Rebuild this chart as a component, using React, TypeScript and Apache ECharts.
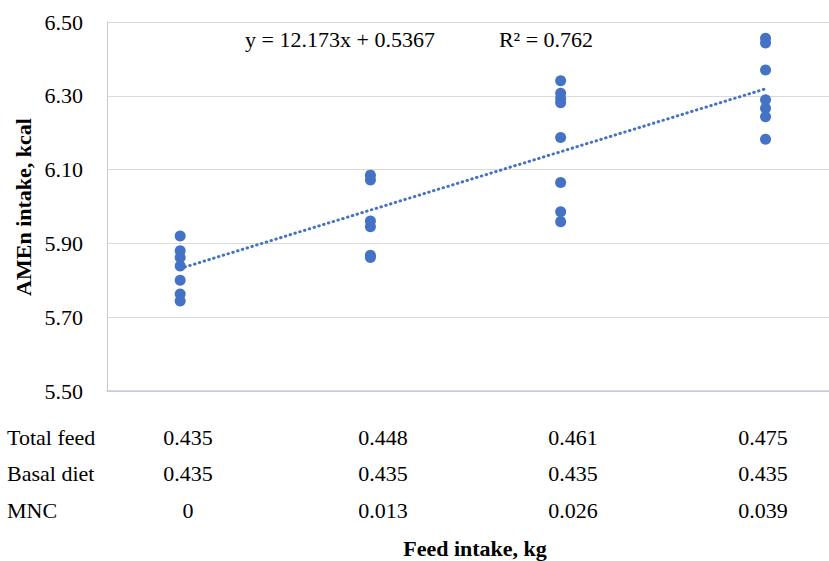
import React, { useEffect, useRef } from "react";
import * as echarts from "echarts";

// Feed intake (kg) of each group – x positions of the points
const feedIntake = [0.435, 0.448, 0.461, 0.475];

// AMEn intake (kcal) readings of each group
const group1 = [5.92, 5.88, 5.862, 5.839, 5.8, 5.763, 5.744];
const group2 = [6.085, 6.072, 5.961, 5.945, 5.868, 5.862];
const group3 = [6.341, 6.307, 6.293, 6.281, 6.187, 6.065, 5.986, 5.959];
const group4 = [6.456, 6.443, 6.37, 6.289, 6.266, 6.243, 6.182];

// Linear trend line constants
const slope = 12.173;
const intercept = 0.5367;
const equationText = "y = 12.173x + 0.5367";
const r2Text = "R² = 0.762";

// Table below the chart
const rowLabels = ["Total feed", "Basal diet", "MNC"];
const totalFeed = ["0.435", "0.448", "0.461", "0.475"];
const basalDiet = ["0.435", "0.435", "0.435", "0.435"];
const mnc = ["0", "0.013", "0.026", "0.039"];

const yTicks = { min: 5.5, max: 6.5, interval: 0.2 };
const xRange = { min: 0.43, max: 0.48 };

const FONT = "'Liberation Serif', 'Times New Roman', serif";
const BLUE = "#4472C4";

export default function App() {
  const ref = useRef<HTMLDivElement>(null);

  useEffect(() => {
    if (!ref.current) return;
    const chart = echarts.init(ref.current, undefined, { renderer: "svg" });

    const groups = [group1, group2, group3, group4];
    const points: number[][] = [];
    groups.forEach((g, i) => g.forEach((v) => points.push([feedIntake[i], v])));

    const xMin = Math.min(...feedIntake);
    const xMax = Math.max(...feedIntake);
    const trend = [
      [xMin, slope * xMin + intercept],
      [xMax, slope * xMax + intercept],
    ];

    const colX = [188, 383, 573, 763];
    const rowY = [437, 473, 510];
    const rows = [totalFeed, basalDiet, mnc];
    const tableTexts: any[] = [];
    rowLabels.forEach((lab, r) => {
      tableTexts.push({
        type: "text",
        x: 7,
        y: rowY[r],
        style: { text: lab, font: `22px ${FONT}`, fill: "#000", align: "left", verticalAlign: "middle" },
      });
      rows[r].forEach((t, c) => {
        tableTexts.push({
          type: "text",
          x: colX[c],
          y: rowY[r],
          style: {
            text: t,
            font: `22px ${FONT}`,
            fill: "#000",
            align: "center",
            verticalAlign: "middle",
          },
        });
      });
    });

    chart.setOption({
      animation: false,
      grid: { left: 107, right: 1.3, top: 22, bottom: 170 },
      xAxis: {
        type: "value",
        min: xRange.min,
        max: xRange.max,
        axisLine: { show: true, lineStyle: { color: "#c6c9da", width: 1.5 } },
        axisTick: { show: false },
        axisLabel: { show: false },
        splitLine: { show: false },
      },
      yAxis: {
        type: "value",
        min: yTicks.min,
        max: yTicks.max,
        interval: yTicks.interval,
        axisLine: { show: true, lineStyle: { color: "#c8c8cc", width: 1 } },
        axisTick: { show: false },
        axisLabel: {
          margin: 24,
          fontFamily: FONT,
          fontSize: 22,
          color: "#000",
          formatter: (v: number) => v.toFixed(2),
        },
        splitLine: { show: true, lineStyle: { color: "#d9d9d9", width: 1 } },
      },
      series: [
        {
          type: "scatter",
          data: points,
          symbol: "circle",
          symbolSize: 11,
          itemStyle: { color: BLUE, opacity: 1 },
          z: 3,
        },
        {
          type: "line",
          data: trend,
          symbol: "none",
          lineStyle: { color: BLUE, width: 3, type: [0.5, 4.5], cap: "round" },
          z: 2,
        },
      ],
      graphic: [
        {
          type: "text",
          x: 340,
          y: 39,
          style: {
            text: equationText,
            font: `22px ${FONT}`,
            fill: "#000",
            align: "center",
            verticalAlign: "middle",
          },
        },
        {
          type: "text",
          x: 546,
          y: 39,
          style: {
            text: r2Text,
            font: `22px ${FONT}`,
            fill: "#000",
            align: "center",
            verticalAlign: "middle",
          },
        },
        {
          type: "text",
          x: 23,
          y: 207,
          rotation: Math.PI / 2,
          style: {
            text: "AMEn intake, kcal",
            font: `bold 22px ${FONT}`,
            fill: "#000",
            align: "center",
            verticalAlign: "middle",
          },
        },
        {
          type: "text",
          x: 475,
          y: 548,
          style: {
            text: "Feed intake, kg",
            font: `bold 22px ${FONT}`,
            fill: "#000",
            align: "center",
            verticalAlign: "middle",
          },
        },
        ...tableTexts,
      ],
    });

    return () => chart.dispose();
  }, []);

  return (
    <div
      style={{
        position: "absolute",
        left: 0,
        top: 0,
        width: 829,
        height: 561,
        overflow: "hidden",
        background: "#fff",
      }}
    >
      <div ref={ref} style={{ width: 840, height: 561 }} />
    </div>
  );
}
